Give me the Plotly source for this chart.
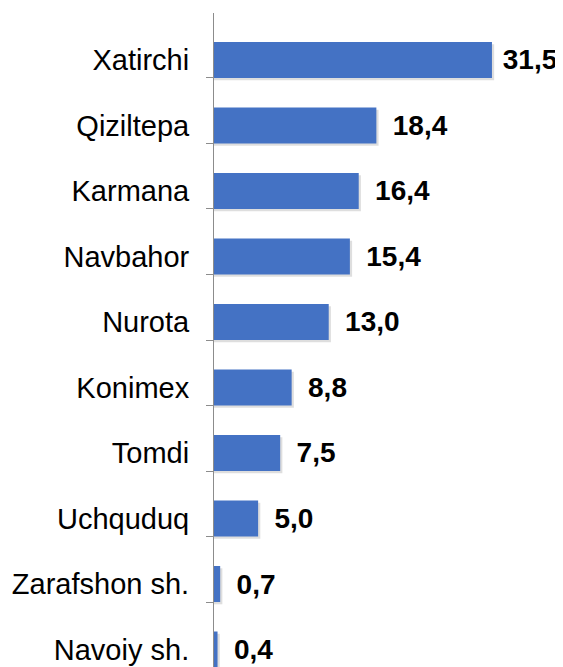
import plotly.graph_objects as go

categories = ["Xatirchi", "Qiziltepa", "Karmana", "Navbahor", "Nurota",
              "Konimex", "Tomdi", "Uchquduq", "Zarafshon sh.", "Navoiy sh."]
values = [31.5, 18.4, 16.4, 15.4, 13.0, 8.8, 7.5, 5.0, 0.7, 0.4]

positions = list(range(len(categories)))
# the longest bar's label sits a little closer to its bar (it is squeezed by the edge)
labels = [("\u00a0" if v == max(values) else "\u00a0\u2009") + f"{v:.1f}".replace(".", ",")
          for v in values]

BAR_COLOR = "#4472C4"
AXIS_COLOR = "#8C8C8C"
SHADOW_COLOR = "rgba(0,0,0,0.13)"
FONT = "Liberation Sans, Arial, sans-serif"

# soft drop shadow (offset slightly down/right of each bar)
SHADOW_DY = 0.035
SHADOW_DX = 0.25

fig = go.Figure()
fig.add_trace(go.Bar(
    x=[v + SHADOW_DX for v in values], y=[p + SHADOW_DY for p in positions],
    orientation="h", width=0.55,
    marker=dict(color=SHADOW_COLOR, line=dict(width=0)),
    hoverinfo="skip",
))
fig.add_trace(go.Bar(
    x=values, y=positions, orientation="h",
    width=0.55,
    marker=dict(color=BAR_COLOR, line=dict(width=0)),
    text=labels, textposition="outside", cliponaxis=False,
    constraintext="none",
    textfont=dict(family=FONT, size=28, color="#000000", weight="bold"),
    hoverinfo="skip",
))

fig.update_layout(
    width=555, height=659,
    barmode="overlay",
    margin=dict(l=206, r=0, t=5, b=0, autoexpand=False),
    paper_bgcolor="white", plot_bgcolor="white",
    showlegend=False,
    font=dict(family=FONT, size=28, color="#000000"),
    xaxis=dict(range=[0, 39.55], visible=False, showgrid=False,
               zeroline=False, automargin=False),
    yaxis=dict(
        range=[9.267, -0.717], automargin=False,
        tickmode="array", tickvals=positions, ticktext=categories,
        tickfont=dict(family=FONT, size=29, color="#000000"),
        ticks="", ticklabelstandoff=18,
        showline=True, linecolor=AXIS_COLOR, linewidth=1,
        showgrid=False, zeroline=False,
        minor=dict(ticks="outside", tick0=-0.725, dtick=1, ticklen=7,
                   tickcolor=AXIS_COLOR, tickwidth=1, showgrid=False),
    ),
)

fig.write_html("out.html")
